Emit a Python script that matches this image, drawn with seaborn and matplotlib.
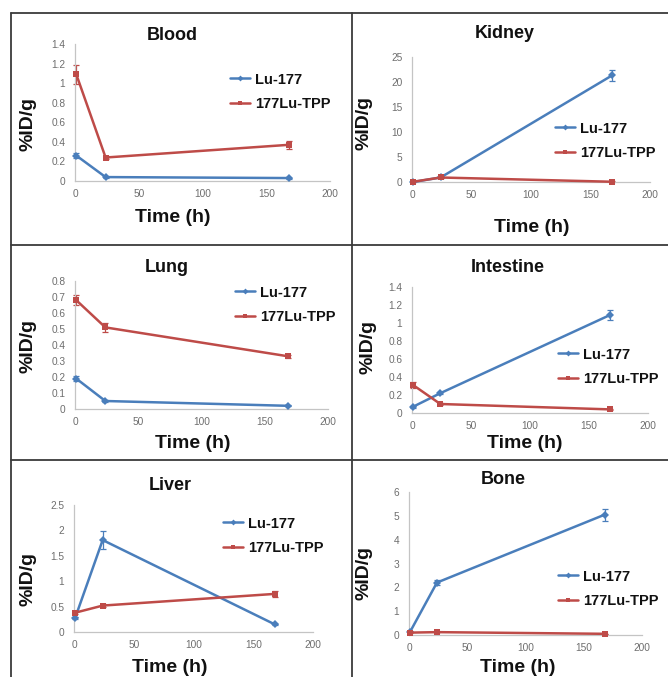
import matplotlib
matplotlib.use("Agg")
import matplotlib.pyplot as plt
from matplotlib.lines import Line2D
from matplotlib.ticker import FuncFormatter, MultipleLocator
import numpy as np
import pandas as pd
import seaborn as sns

# ---- data: biodistribution (%ID/g) at each time point ----
hours = [1, 24, 168]
agents = ["Lu-177", "177Lu-TPP"]

blood_lu = [0.26, 0.04, 0.03]
blood_lu_err = [0.03, 0.005, 0.005]
blood_tpp = [1.09, 0.24, 0.37]
blood_tpp_err = [0.10, 0.02, 0.04]

kidney_lu = [0.0, 0.9, 21.3]
kidney_lu_err = [0.1, 0.1, 1.1]
kidney_tpp = [0.05, 0.9, 0.05]
kidney_tpp_err = [0.05, 0.1, 0.05]

lung_lu = [0.19, 0.05, 0.02]
lung_lu_err = [0.015, 0.005, 0.003]
lung_tpp = [0.68, 0.51, 0.33]
lung_tpp_err = [0.03, 0.03, 0.01]

intestine_lu = [0.07, 0.22, 1.09]
intestine_lu_err = [0.01, 0.01, 0.06]
intestine_tpp = [0.31, 0.10, 0.04]
intestine_tpp_err = [0.03, 0.01, 0.005]

liver_lu = [0.28, 1.81, 0.15]
liver_lu_err = [0.02, 0.18, 0.01]
liver_tpp = [0.38, 0.52, 0.75]
liver_tpp_err = [0.03, 0.03, 0.06]

bone_lu = [0.14, 2.2, 5.05]
bone_lu_err = [0.02, 0.1, 0.25]
bone_tpp = [0.10, 0.12, 0.05]
bone_tpp_err = [0.01, 0.01, 0.005]

organs = ["Blood", "Kidney", "Lung", "Intestine", "Liver", "Bone"]
organ_values = {
    "Blood": (blood_lu, blood_lu_err, blood_tpp, blood_tpp_err),
    "Kidney": (kidney_lu, kidney_lu_err, kidney_tpp, kidney_tpp_err),
    "Lung": (lung_lu, lung_lu_err, lung_tpp, lung_tpp_err),
    "Intestine": (intestine_lu, intestine_lu_err, intestine_tpp, intestine_tpp_err),
    "Liver": (liver_lu, liver_lu_err, liver_tpp, liver_tpp_err),
    "Bone": (bone_lu, bone_lu_err, bone_tpp, bone_tpp_err),
}
y_limits = {"Blood": (1.4, 0.2), "Kidney": (25, 5), "Lung": (0.8, 0.1),
            "Intestine": (1.4, 0.2), "Liver": (2.5, 0.5), "Bone": (6, 1)}

# ---- layout (pixel boxes on a 668 x 677 canvas) ----
W, H = 668, 677
axes_px = {  # left, right, top, bottom
    "Blood": (75, 330, 44, 181),
    "Kidney": (412, 650, 57, 182),
    "Lung": (75, 328, 281, 409),
    "Intestine": (412, 648, 287, 413),
    "Liver": (74, 313, 505, 632),
    "Bone": (409, 642, 492, 635),
}
title_px = {"Blood": (172, 35), "Kidney": (505, 33), "Lung": (167, 268),
            "Intestine": (508, 267), "Liver": (170, 485), "Bone": (503, 480)}
xlabel_px = {"Blood": (173, 217), "Kidney": (532, 227), "Lung": (193, 443),
             "Intestine": (525, 444), "Liver": (170, 667), "Bone": (518, 667)}
ylabel_px = {"Blood": (28, 124), "Kidney": (364, 123), "Lung": (28, 346),
             "Intestine": (368, 347), "Liver": (28, 579), "Bone": (364, 573)}
legend_px = {"Blood": (230, 92), "Kidney": (555, 141), "Lung": (235, 305),
             "Intestine": (558, 367), "Liver": (223, 536), "Bone": (558, 589)}

sns.set_style("white")
plt.rcParams["font.family"] = ["Liberation Sans", "DejaVu Sans"]

palette = {"Lu-177": "#4a7ebb", "177Lu-TPP": "#be4b48"}
markers = {"Lu-177": "D", "177Lu-TPP": "s"}

fig = plt.figure(figsize=(W / 100, H / 100), dpi=100)


def fx(x):
    return x / W


def fy(y):
    return 1 - y / H


fmt = FuncFormatter(lambda v, p: f"{v:g}")

for organ in organs:
    l, r, t, b = axes_px[organ]
    ax = fig.add_axes([fx(l), fy(b), (r - l) / W, (b - t) / H])
    lu, lu_err, tpp, tpp_err = organ_values[organ]
    df = pd.DataFrame({
        "Time": hours * 2,
        "Value": lu + tpp,
        "Agent": [agents[0]] * len(hours) + [agents[1]] * len(hours),
    })
    sns.lineplot(data=df, x="Time", y="Value", hue="Agent", style="Agent",
                 palette=palette, markers=markers, dashes=False,
                 linewidth=1.8, markersize=3.8, markeredgewidth=0,
                 ax=ax, legend=False, clip_on=False, zorder=3)
    for vals, errs, name in ((lu, lu_err, agents[0]), (tpp, tpp_err, agents[1])):
        ax.errorbar(hours, vals, yerr=errs, fmt="none", ecolor=palette[name],
                    elinewidth=0.9, capsize=2, capthick=0.9, zorder=2,
                    clip_on=False)

    ymax, ystep = y_limits[organ]
    ax.set_xlim(0, 200)
    ax.set_ylim(0, ymax)
    ax.xaxis.set_major_locator(MultipleLocator(50))
    ax.yaxis.set_major_locator(MultipleLocator(ystep))
    ax.xaxis.set_major_formatter(fmt)
    ax.yaxis.set_major_formatter(fmt)
    ax.tick_params(axis="both", length=0, labelsize=7.3, labelcolor="#6e6e6e")
    ax.tick_params(axis="y", pad=7)
    ax.tick_params(axis="x", pad=6)
    ax.set_xlabel("")
    ax.set_ylabel("")
    for side in ("top", "right"):
        ax.spines[side].set_visible(False)
    for side in ("left", "bottom"):
        ax.spines[side].set_color("#c4c4c4")
        ax.spines[side].set_linewidth(0.9)
    ax.patch.set_alpha(0)

    tx, ty = title_px[organ]
    fig.text(fx(tx), fy(ty), organ, ha="center", va="center",
             fontsize=13, fontweight="bold", color="#111111")
    xx, xy = xlabel_px[organ]
    fig.text(fx(xx), fy(xy), "Time (h)", ha="center", va="center",
             fontsize=14, fontweight="bold", color="#111111")
    yx, yy = ylabel_px[organ]
    fig.text(fx(yx), fy(yy), "%ID/g", ha="center", va="center", rotation=90,
             fontsize=14, fontweight="bold", color="#111111")

    handles = [Line2D([], [], color=palette[a], marker=markers[a], lw=1.8,
                      markersize=3, markeredgewidth=0) for a in agents]
    lx, ly = legend_px[organ]
    ax.legend(handles, agents, loc="center left",
              bbox_to_anchor=(fx(lx), fy(ly)), bbox_transform=fig.transFigure,
              frameon=False, borderpad=0, borderaxespad=0,
              handlelength=1.4, handletextpad=0.3, labelspacing=0.75,
              prop={"size": 10.5, "weight": "bold"}, labelcolor="#111111")

# panel frame lines
frame_kw = dict(color="#3a3a3a", lw=1.3, transform=fig.transFigure)
fig.add_artist(Line2D([fx(11), 1], [fy(13), fy(13)], **frame_kw))
fig.add_artist(Line2D([fx(11), fx(11)], [fy(13), 0], **frame_kw))
fig.add_artist(Line2D([fx(352), fx(352)], [fy(13), 0], **frame_kw))
fig.add_artist(Line2D([fx(11), 1], [fy(245), fy(245)], **frame_kw))
fig.add_artist(Line2D([fx(11), 1], [fy(460), fy(460)], **frame_kw))

fig.savefig("out.png", dpi=100)
